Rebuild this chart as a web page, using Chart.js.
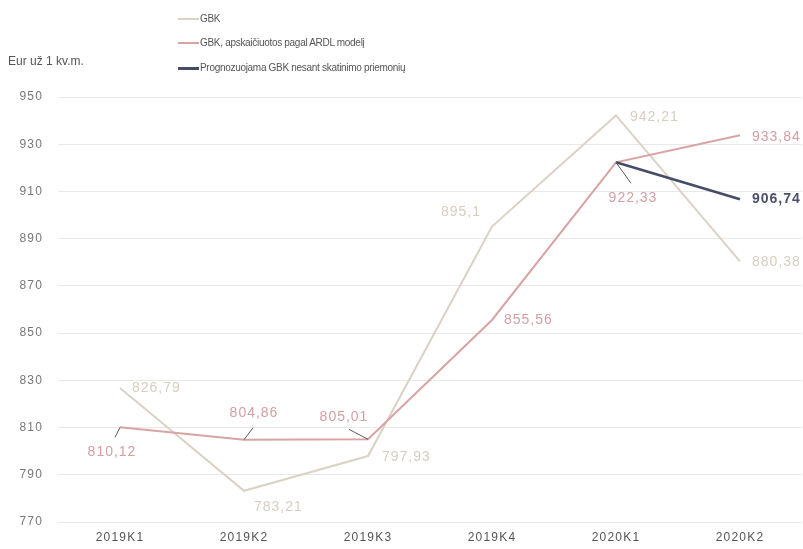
<!DOCTYPE html>
<html lang="lt">
<head>
<meta charset="utf-8">
<title>GBK</title>
<script src="https://cdn.jsdelivr.net/npm/chart.js@4"></script>
<style>
  html, body { margin: 0; padding: 0; background: #fff; }
  #wrap { position: relative; width: 803px; height: 549px; }
  #chart { position: absolute; left: 0; top: 0; }
  .unit { position: absolute; left: 8px; top: 54px; font: 12px "Liberation Sans", Arial, sans-serif; color: #555; letter-spacing: 0px; }
  .legend { position: absolute; left: 178px; top: 0; font: 10px "Liberation Sans", Arial, sans-serif; color: #555; letter-spacing: -0.3px; }
  .legend div { position: absolute; white-space: nowrap; height: 12px; line-height: 12px; }
  .legend span.sw { display: inline-block; width: 21px; vertical-align: middle; margin-right: 1px; }
</style>
</head>
<body>
<div id="wrap">
  <canvas id="chart" width="803" height="549"></canvas>
  <div class="unit">Eur už 1 kv.m.</div>
  <div class="legend" id="legend"></div>
</div>
<script>
// Quarters and values, Eur per square metre
const quarters = ['2019K1', '2019K2', '2019K3', '2019K4', '2020K1', '2020K2'];
const gbk = [826.79, 783.21, 797.93, 895.1, 942.21, 880.38];
const gbkArdl = [810.12, 804.86, 805.01, 855.56, 922.33, 933.84];
const gbkForecast = [null, null, null, null, 922.33, 906.74];
const yTicks = [770, 790, 810, 830, 850, 870, 890, 910, 930, 950];

const seriesNames = [
  'GBK',
  'GBK, apskaičiuotos pagal ARDL modelį',
  'Prognozuojama GBK nesant skatinimo priemonių'
];
const lineColors = ['#dad2c5', '#d9a3a3', '#454d66'];
const labelColors = ['#d6cec1', '#d49ea3', '#4a506a'];

// where each value label sits relative to its point: [dx, dy, align, leader?]
const labelPlace = [
  [[12, 0, 'left'], [10, 16, 'left'], [14, 1, 'left'], [-11, -14, 'right'], [14, 2, 'left'], [12, 1, 'left']],
  [[-8, 25, 'center', [-5, 10]], [10, -27, 'center', [9, -12]], [-24, -22, 'center', [-19, -10]],
   [12, 0, 'left'], [17, 36, 'center', [15, 21]], [12, 2, 'left']],
  [null, null, null, null, null, [12, 0, 'left']]
];

const fmt = v => String(v).replace('.', ',');

// legend, stacked on the top
const legend = document.getElementById('legend');
const legendTops = [13, 37, 62];
seriesNames.forEach((name, i) => {
  const row = document.createElement('div');
  row.style.top = legendTops[i] + 'px';
  const sw = document.createElement('span');
  sw.className = 'sw';
  sw.style.borderTop = (i === 2 ? 3 : 2) + 'px solid ' + lineColors[i];
  row.appendChild(sw);
  row.appendChild(document.createTextNode(name));
  legend.appendChild(row);
});

// wide-set digits on the axes
const spacing = {
  id: 'spacing',
  beforeDraw(chart) { chart.ctx.letterSpacing = '1.2px'; }
};

const valueLabels = {
  id: 'valueLabels',
  afterDatasetsDraw(chart) {
    const ctx = chart.ctx;
    ctx.save();
    ctx.letterSpacing = '1px';
    chart.data.datasets.forEach((ds, di) => {
      const meta = chart.getDatasetMeta(di);
      meta.data.forEach((pt, i) => {
        const place = labelPlace[di][i];
        if (!place || ds.data[i] == null) return;
        const [dx, dy, align, leader] = place;
        if (leader) {
          ctx.strokeStyle = '#5a5a5a';
          ctx.lineWidth = 1;
          ctx.beginPath();
          ctx.moveTo(pt.x, pt.y);
          ctx.lineTo(pt.x + leader[0], pt.y + leader[1]);
          ctx.stroke();
        }
        ctx.font = (di === 2 ? 'bold ' : '') + '14px "Liberation Sans", Arial, sans-serif';
        ctx.fillStyle = labelColors[di];
        ctx.textAlign = align;
        ctx.textBaseline = 'middle';
        ctx.fillText(fmt(ds.data[i]), pt.x + dx, pt.y + dy);
      });
    });
    ctx.restore();
  }
};

new Chart(document.getElementById('chart'), {
  type: 'line',
  data: {
    labels: quarters,
    datasets: [gbk, gbkArdl, gbkForecast].map((d, i) => ({
      label: seriesNames[i],
      data: d,
      borderColor: lineColors[i],
      borderWidth: i === 2 ? 2.6 : 2,
      pointRadius: 0,
      tension: 0,
      spanGaps: false,
      order: 2 - i
    }))
  },
  options: {
    responsive: false,
    animation: false,
    layout: { padding: { top: 97, right: 1, bottom: 0, left: 0 } },
    plugins: { legend: { display: false }, tooltip: { enabled: false } },
    scales: {
      x: {
        offset: true,
        afterFit: s => { s.height = 27; },
        grid: { display: false, drawTicks: false },
        border: { display: false },
        ticks: { color: '#555', font: { size: 12, family: '"Liberation Sans", Arial, sans-serif' }, padding: 8, maxRotation: 0 }
      },
      y: {
        min: 770,
        max: 950,
        afterBuildTicks: s => { s.ticks = yTicks.map(v => ({ value: v })); },
        afterFit: s => { s.width = 58; },
        grid: { color: '#e9e9e9', lineWidth: 1, drawTicks: false },
        border: { display: false },
        ticks: { color: '#777', font: { size: 12, family: '"Liberation Sans", Arial, sans-serif' }, padding: 15 }
      }
    }
  },
  plugins: [spacing, valueLabels]
});
</script>
</body>
</html>
